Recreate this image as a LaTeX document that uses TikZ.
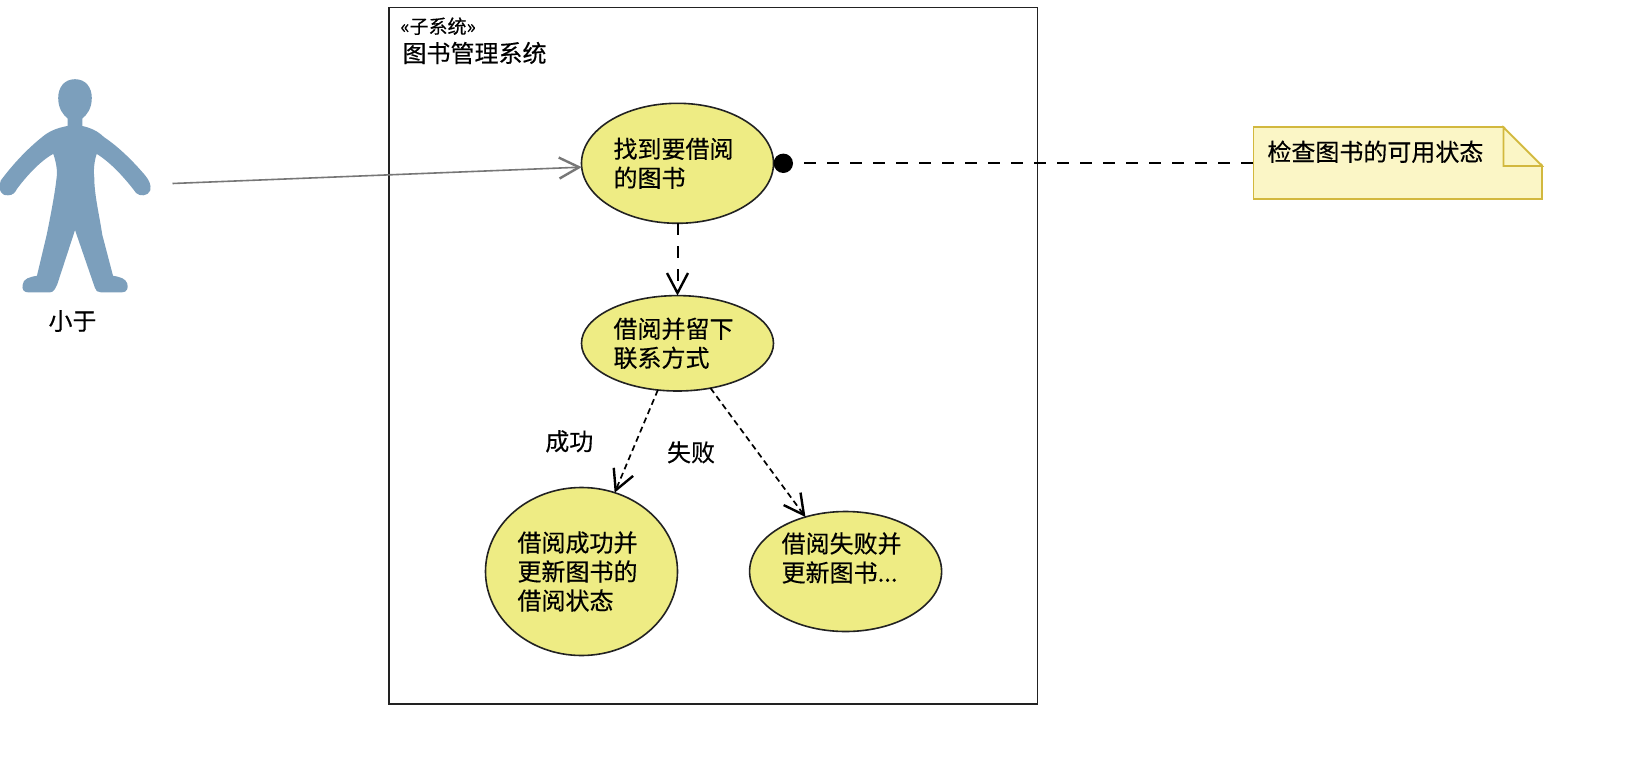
\documentclass[tikz,border=0pt]{standalone}
\usepackage{fontspec}
\newfontfamily\cjk[FakeBold=0.35]{Noto Sans CJK SC}
\usetikzlibrary{shapes.geometric,arrows.meta}
\definecolor{ucfill}{HTML}{EEEC84}
\definecolor{ucedge}{HTML}{222222}
\definecolor{notefill}{HTML}{FBF6C6}
\definecolor{noteedge}{HTML}{D2B83E}
\definecolor{actorblue}{HTML}{7C9FBC}
\definecolor{assocgray}{HTML}{777777}
\tikzset{
  usecase/.style={ellipse,draw=ucedge,fill=ucfill,line width=1.6pt,inner xsep=0pt,inner ysep=-6pt,outer sep=0pt,
    text width=128pt,align=left,font=\cjk\fontsize{24}{29}\selectfont},
  plainlabel/.style={inner sep=0pt,outer sep=0pt,font=\cjk\fontsize{24}{28}\selectfont},
  openhead/.style={-{Straight Barb[length=20pt,width=21pt,line width=2.4pt]}},
  longdash/.style={line width=2pt,draw=black,dash pattern=on 12pt off 11pt},
  shortdash/.style={line width=1.7pt,draw=black,dash pattern=on 6pt off 4pt},
}
\begin{document}
\begin{tikzpicture}[x=1pt,y=-1pt]
\useasboundingbox (0,0) rectangle (1627,776);
% system frame
\node[draw=ucedge,line width=1.8pt,fill=white,minimum width=648.2pt,minimum height=696.5pt,inner sep=0pt,outer sep=0pt] (frame) at (713.4,355.75) {};
\node[plainlabel,anchor=west,font=\cjk\fontsize{19}{22}\selectfont] (stereo) at (400.5,26.2) {«子系统»};
\node[plainlabel,anchor=west] (sysname) at (402.5,53) {图书管理系统};
% actor figure
\fill[actorblue,draw=actorblue,line width=2.6pt,line join=round]
  (75,80.5) .. controls (65,80.5) and (59.5,88) .. (59.5,98)
  .. controls (59.5,108) and (64,114) .. (69,118) -- (69,127)
  .. controls (58,129) and (50,132) .. (43,138)
  .. controls (28,150) and (14,165) .. (2,181)
  .. controls (-1,190) and (3,195) .. (8,194)
  .. controls (12,194) and (14,192) .. (16,188)
  .. controls (28,172) and (42,158) .. (54,152)
  .. controls (57,160) and (59,170) .. (58,177)
  .. controls (56,195) and (52,215) .. (48,235)
  -- (38,277)
  .. controls (30,278) and (24,280) .. (24,285)
  .. controls (23,289) and (25,291) .. (28,291)
  -- (50,291)
  .. controls (53,291) and (54,288) .. (56,284)
  -- (75,226)
  -- (96,287)
  .. controls (97,290) and (98,291) .. (101,291)
  -- (122,291)
  .. controls (126,291) and (127,288) .. (126,284)
  .. controls (125,280) and (120,278) .. (112,277)
  -- (101,235)
  .. controls (98,215) and (93,195) .. (93,178)
  .. controls (92,170) and (93,160) .. (96,152)
  .. controls (110,160) and (125,176) .. (137,192)
  .. controls (140,195) and (147,195) .. (149,190)
  .. controls (150,185) and (148,181) .. (144,176)
  .. controls (132,162) and (118,148) .. (103,138)
  .. controls (97,132) and (90,129) .. (81,127) -- (81,118)
  .. controls (86,114) and (90.5,108) .. (90.5,98)
  .. controls (90.5,88) and (85,80.5) .. (75,80.5) -- cycle;
\node[plainlabel] (actorname) at (72.5,321) {小于};
\coordinate (actorend) at (172.5,183.5);
% use cases
\node[usecase,minimum width=192pt,minimum height=120pt] (e1) at (677.5,163.3) {找到要借阅\\的图书};
\node[usecase,minimum width=192pt,minimum height=95.4pt] (e2) at (677.5,343.3) {借阅并留下\\联系方式};
\node[usecase,minimum width=192pt,minimum height=168pt] (e3) at (581.5,571.5) {借阅成功并\\更新图书的\\借阅状态};
\node[usecase,minimum width=192pt,minimum height=120pt] (e4) at (845.6,571.5) {借阅失败并\\更新图书...\\\mbox{}};
% connectors
\draw[assocgray,line width=1.6pt,openhead] (actorend) -- (e1);
\draw[longdash,openhead] (e1) -- (e2);
\draw[shortdash,openhead] (e2) -- (e3);
\draw[shortdash,openhead] (e2) -- (e4);
\node[plainlabel] (ok) at (569.3,441.3) {成功};
\node[plainlabel] (fail) at (691,452.3) {失败};
% note
\node[draw=noteedge,fill=notefill,line width=1.8pt,minimum width=288.6pt,minimum height=72pt,inner sep=0pt,outer sep=0pt,
  text width=260.6pt,align=left,font=\cjk\fontsize{24}{28}\selectfont] (note) at (1397.7,163.3)
  {\raisebox{11.5pt}[\height][\depth]{检查图书的可用状态}};
\fill[white] (1503.4,125.5) -- (1544,125.5) -- (1544,165.8) -- cycle;
\draw[noteedge,line width=1.8pt,line join=miter] (1503.4,127.3) -- (1503.4,166) -- (1542,166) -- cycle;
% constraint anchor
\node[circle,fill=black,minimum size=19.4pt,inner sep=0pt,outer sep=0pt] (dot) at (783.3,163.3) {};
\coordinate (dashstart) at (804,163.3);
\draw[longdash] (dashstart) -- (note);
\end{tikzpicture}
\end{document}
